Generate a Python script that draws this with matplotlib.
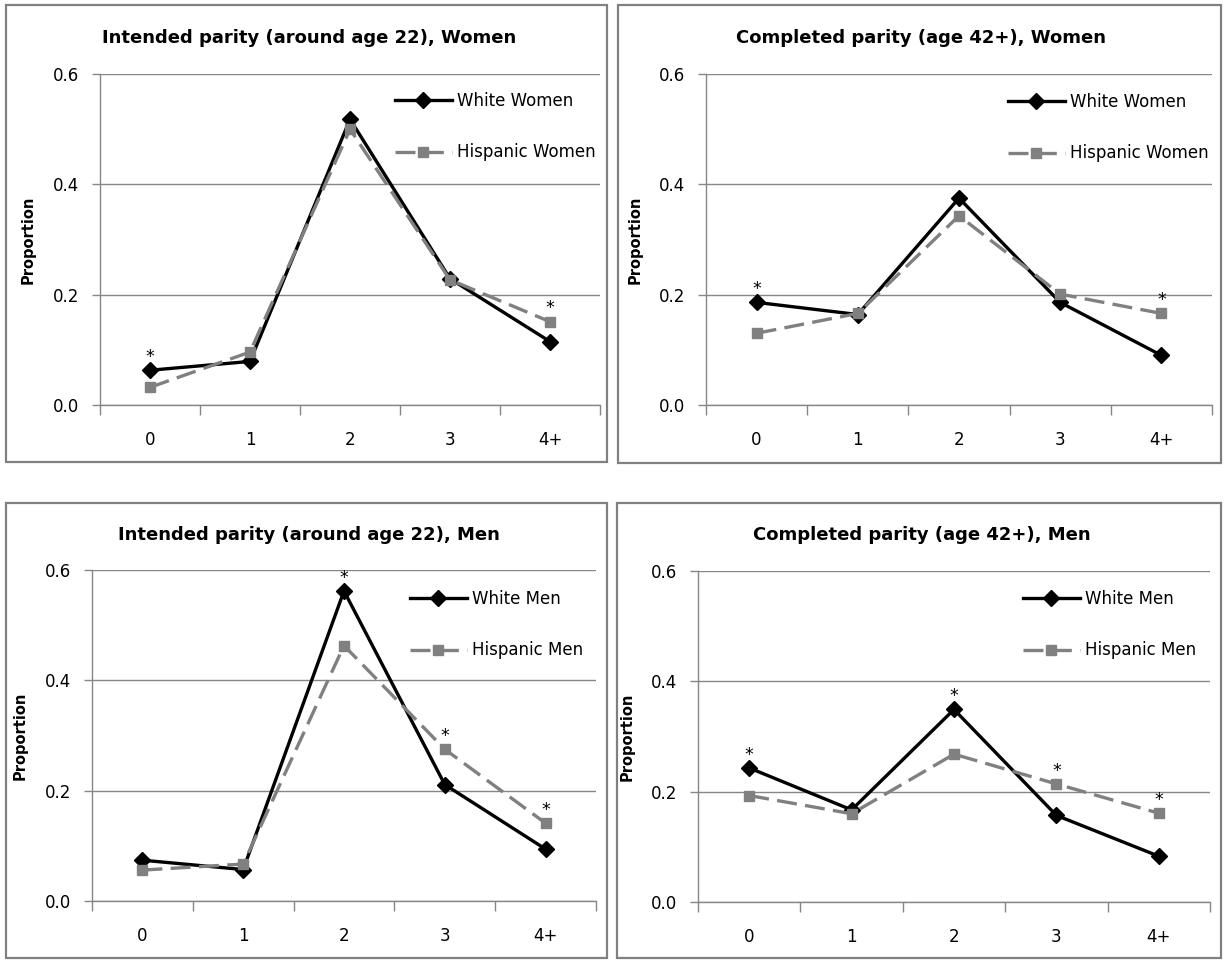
import matplotlib.pyplot as plt
from matplotlib.patches import Rectangle
import numpy as np

W, H = 1226, 960

categories = ['0', '1', '2', '3', '4+']

titles = [
    'Intended parity (around age 22), Women',
    'Completed parity (age 42+), Women',
    'Intended parity (around age 22), Men',
    'Completed parity (age 42+), Men',
]
white_labels = ['White Women', 'White Women', 'White Men', 'White Men']
hisp_labels = ['Hispanic Women', 'Hispanic Women', 'Hispanic Men', 'Hispanic Men']

white_int_women = [0.063, 0.079, 0.518, 0.229, 0.115]
hisp_int_women = [0.032, 0.096, 0.500, 0.227, 0.151]
white_comp_women = [0.186, 0.164, 0.375, 0.186, 0.090]
hisp_comp_women = [0.130, 0.166, 0.343, 0.201, 0.166]
white_int_men = [0.074, 0.057, 0.562, 0.211, 0.094]
hisp_int_men = [0.056, 0.067, 0.463, 0.275, 0.141]
white_comp_men = [0.243, 0.167, 0.349, 0.157, 0.083]
hisp_comp_men = [0.193, 0.160, 0.268, 0.214, 0.161]

white_series = [white_int_women, white_comp_women, white_int_men, white_comp_men]
hisp_series = [hisp_int_women, hisp_comp_women, hisp_int_men, hisp_comp_men]

# categories marked with an asterisk (significant difference)
stars = [[0, 4], [0, 4], [2, 3, 4], [0, 2, 3, 4]]

# layout in pixels: panel box, plot area, title centre, legend top-left
boxes = [(6, 5, 607, 462), (618, 5, 1221, 463), (6, 503, 607, 958), (617, 503, 1221, 958)]
plot_areas = [(100, 74, 600, 405), (706, 74, 1212, 405), (92, 570, 596, 901), (698, 571, 1210, 902)]
title_pos = [(309, 38), (921, 38), (309, 535), (922, 535)]
legend_pos = [(395, 92), (1008, 93), (410, 590), (1023, 590)]

GRID = '#868686'
GREY = '#808080'

plt.rcParams['font.family'] = 'DejaVu Sans'
fig = plt.figure(figsize=(W / 100, H / 100), dpi=100)

for i in range(4):
    x0, y0, x1, y1 = boxes[i]
    fig.patches.append(Rectangle((x0 / W, 1 - y1 / H), (x1 - x0) / W, (y1 - y0) / H,
                                 transform=fig.transFigure, fill=False,
                                 edgecolor=GREY, linewidth=1.6))

    px0, py0, px1, py1 = plot_areas[i]
    ax = fig.add_axes([px0 / W, 1 - py1 / H, (px1 - px0) / W, (py1 - py0) / H])
    x = np.arange(len(categories))

    ax.plot(x, white_series[i], color='black', linewidth=2.4, marker='D',
            markersize=8, label=white_labels[i], zorder=3)
    ax.plot(x, hisp_series[i], color=GREY, linewidth=2.4, linestyle=(0, (6, 2.5)),
            marker='s', markersize=7.5, label=hisp_labels[i], zorder=4)

    for c in stars[i]:
        top = max(white_series[i][c], hisp_series[i][c])
        ax.annotate('*', (c, top), xytext=(0, 6), textcoords='offset points',
                    ha='center', va='baseline', fontsize=12.5, zorder=5)

    ax.set_xlim(-0.5, 4.5)
    ax.set_ylim(0, 0.6)
    ax.set_yticks([0, 0.2, 0.4, 0.6])
    ax.set_yticklabels(['0.0', '0.2', '0.4', '0.6'])
    ax.set_xticks(x)
    ax.set_xticklabels(categories)
    ax.set_xticks(np.arange(-0.5, 5, 1), minor=True)
    ax.tick_params(axis='x', which='major', length=0, pad=19, labelsize=12)
    ax.tick_params(axis='x', which='minor', length=7, color=GRID, width=1)
    ax.tick_params(axis='y', length=6, color=GRID, width=1, pad=9, labelsize=12)
    ax.yaxis.grid(True, color=GRID, linewidth=1)
    ax.set_axisbelow(True)
    for s in ['top', 'right']:
        ax.spines[s].set_visible(False)
    for s in ['left', 'bottom']:
        ax.spines[s].set_color(GRID)
        ax.spines[s].set_linewidth(1)

    ax.set_ylabel('Proportion', fontweight='bold', fontsize=10.5, labelpad=12)

    tx, ty = title_pos[i]
    fig.text(tx / W, 1 - ty / H, titles[i], ha='center', va='center',
             fontsize=13, fontweight='bold')

    lx, ly = legend_pos[i]
    ax.legend(loc='upper left', bbox_to_anchor=(lx / W, 1 - ly / H),
              bbox_transform=fig.transFigure, frameon=False, fontsize=12,
              handlelength=3.4, handletextpad=0.3, labelspacing=2.0,
              borderpad=0, borderaxespad=0, numpoints=1)

fig.savefig('out.png', dpi=100)
